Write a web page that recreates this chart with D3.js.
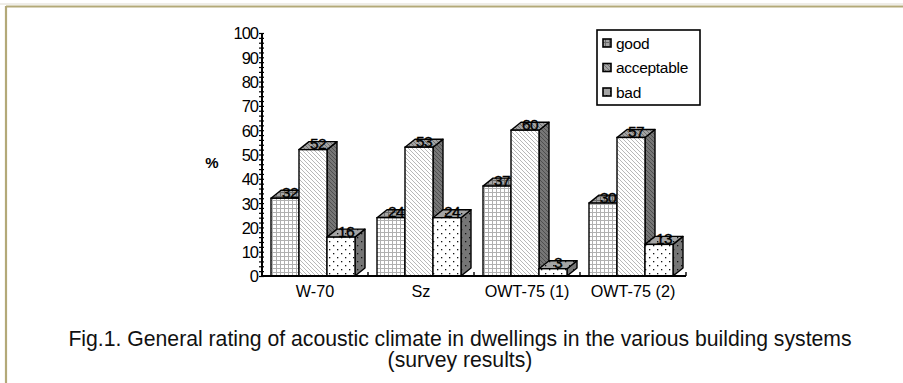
<!DOCTYPE html>
<html>
<head>
<meta charset="utf-8">
<script src="https://cdn.jsdelivr.net/npm/d3@7"></script>
<style>
  html, body { margin: 0; padding: 0; background: #fff; }
  svg { display: block; }
  text { font-family: "Liberation Sans", Arial, Helvetica, sans-serif; }
</style>
</head>
<body>
<svg id="chart" width="903" height="383"></svg>
<script>
// Survey data: share of responses (%) per building system
const categories = ["W-70", "Sz", "OWT-75 (1)", "OWT-75 (2)"];
const seriesNames = ["good", "acceptable", "bad"];
const good = [32, 24, 37, 30];
const acceptable = [52, 53, 60, 57];
const bad = [16, 24, 3, 13];
const yTicks = [0, 10, 20, 30, 40, 50, 60, 70, 80, 90, 100];

const series = [good, acceptable, bad];

const svg = d3.select("#chart");
const defs = svg.append("defs");

// Fill patterns: grid, diagonal hatch, dots
function makePatterns(id, bg, ink) {
  const g = defs.append("pattern").attr("id", "grid-" + id)
    .attr("patternUnits", "userSpaceOnUse").attr("width", 4).attr("height", 4);
  g.append("rect").attr("width", 4).attr("height", 4).attr("fill", bg);
  g.append("path").attr("d", "M0,0.5H4M0.5,0V4").attr("stroke", ink).attr("stroke-width", 1);

  const h = defs.append("pattern").attr("id", "hatch-" + id)
    .attr("patternUnits", "userSpaceOnUse").attr("width", 4).attr("height", 4);
  h.append("rect").attr("width", 4).attr("height", 4).attr("fill", bg);
  h.append("path").attr("d", "M-1,-1L5,5M-1,3L1,5M3,-1L5,1").attr("stroke", ink).attr("stroke-width", 0.9);

  const d = defs.append("pattern").attr("id", "dots-" + id)
    .attr("patternUnits", "userSpaceOnUse").attr("width", 8).attr("height", 8);
  d.append("rect").attr("width", 8).attr("height", 8).attr("fill", bg);
  d.append("rect").attr("x", 1).attr("y", 1).attr("width", 1.3).attr("height", 1.3).attr("fill", "#111");
  d.append("rect").attr("x", 5).attr("y", 5).attr("width", 1.3).attr("height", 1.3).attr("fill", "#111");
}
makePatterns("front", "#fff", "#b0b0b0");
makePatterns("top", "#a4a4a4", "#6a6a6a");
makePatterns("side", "#767676", "#4a4a4a");
const patternKind = ["grid", "hatch", "dots"];

// Frame lines along the top and left edge
svg.append("line").attr("x1", 0).attr("x2", 903).attr("y1", 4).attr("y2", 4)
  .attr("stroke", "#dedbd0").attr("stroke-width", 1);
svg.append("line").attr("x1", 6).attr("x2", 903).attr("y1", 6.5).attr("y2", 6.5)
  .attr("stroke", "#b3a978").attr("stroke-width", 2.2);
svg.append("line").attr("x1", 6).attr("x2", 6).attr("y1", 6).attr("y2", 383)
  .attr("stroke", "#b3a978").attr("stroke-width", 2.2);

// Scales
const y = d3.scaleLinear().domain([0, 100]).range([276, 33]);
const x = d3.scaleBand().domain(categories).range([262, 686]).paddingInner(0).paddingOuter(0);

const barW = 28, depthX = 10, depthY = 8, leftPad = 9;

// Y axis: minor ticks every 2 crossing the axis line, labels every 10
const minor = svg.append("g").attr("transform", "translate(264,0)")
  .call(d3.axisLeft(y).tickValues(d3.range(0, 101, 2)).tickSize(5).tickFormat(""));
minor.select(".domain").remove();
minor.selectAll("line").attr("stroke", "#000").attr("stroke-width", 1.2);

const major = svg.append("g").attr("transform", "translate(262,0)")
  .call(d3.axisLeft(y).tickValues(yTicks).tickSize(0).tickPadding(4));
major.select(".domain").remove();
major.selectAll("text").attr("font-size", 16.5).attr("fill", "#000")
  .attr("font-family", "'Liberation Sans', Arial, sans-serif").attr("dy", "0.36em")
  .attr("letter-spacing", -1);

svg.append("line").attr("x1", 262).attr("x2", 262).attr("y1", y(100)).attr("y2", y(0) + 1)
  .attr("stroke", "#000").attr("stroke-width", 2);

// "%" axis title
svg.append("text").attr("x", 212).attr("y", y(45) + 1).attr("font-size", 15)
  .attr("text-anchor", "middle").attr("font-weight", "bold").text("%");

// Bars drawn as 3D prisms (front, top, side faces)
const plot = svg.append("g");
categories.forEach((cat, ci) => {
  series.forEach((vals, si) => {
    const v = vals[ci];
    const x0 = x(cat) + leftPad + si * barW;
    const x1 = x0 + barW;
    const yt = y(v), yb = y(0);
    const k = patternKind[si];
    const g = plot.append("g");
    // side face
    g.append("path")
      .attr("d", `M${x1},${yb}L${x1 + depthX},${yb - depthY}L${x1 + depthX},${yt - depthY}L${x1},${yt}Z`)
      .attr("fill", `url(#${k}-side)`).attr("stroke", "#000").attr("stroke-width", 1.4)
      .attr("stroke-linejoin", "round");
    // top face
    g.append("path")
      .attr("d", `M${x0},${yt}L${x0 + depthX},${yt - depthY}L${x1 + depthX},${yt - depthY}L${x1},${yt}Z`)
      .attr("fill", `url(#${k}-top)`).attr("stroke", "#000").attr("stroke-width", 1.4)
      .attr("stroke-linejoin", "round");
    // front face
    g.append("rect").attr("x", x0).attr("y", yt).attr("width", barW).attr("height", yb - yt)
      .attr("fill", `url(#${k}-front)`).attr("stroke", "#000").attr("stroke-width", 1.4);
  });
});

// Value labels on the top faces
categories.forEach((cat, ci) => {
  series.forEach((vals, si) => {
    const v = vals[ci];
    const cx = x(cat) + leftPad + si * barW + barW / 2 + depthX / 2;
    svg.append("text").attr("x", cx).attr("y", y(v) - 0.5)
      .attr("text-anchor", "middle").attr("font-size", 15.5).attr("fill", "#000")
      .attr("stroke", "#000").attr("stroke-width", 0.35)
      .attr("letter-spacing", -0.6)
      .text(v);
  });
});

// X axis line with ticks at category boundaries
svg.append("line").attr("x1", 261).attr("x2", 686).attr("y1", y(0)).attr("y2", y(0))
  .attr("stroke", "#000").attr("stroke-width", 2);
const xa = svg.append("g").attr("transform", `translate(0,${y(0)})`)
  .call(d3.axisBottom(x).tickSize(0).tickPadding(9));
xa.select(".domain").remove();
xa.selectAll("text").attr("font-size", 16.2).attr("fill", "#000")
  .attr("font-family", "'Liberation Sans', Arial, sans-serif");
categories.forEach(cat => {
  const bx = x(cat) + x.bandwidth();
  svg.append("line").attr("x1", bx).attr("x2", bx).attr("y1", y(0)).attr("y2", y(0) - 4)
    .attr("stroke", "#000").attr("stroke-width", 1.4);
});

// Legend
const lg = svg.append("g").attr("transform", "translate(597,30)");
lg.append("rect").attr("x", 0).attr("y", 0).attr("width", 103).attr("height", 75)
  .attr("fill", "#fff").attr("stroke", "#000").attr("stroke-width", 1.6);
seriesNames.forEach((name, i) => {
  const ry = 9 + i * 24.5;
  lg.append("rect").attr("x", 6).attr("y", ry).attr("width", 8).attr("height", 8)
    .attr("fill", `url(#${patternKind[i]}-top)`).attr("stroke", "#000").attr("stroke-width", 1.6);
  lg.append("text").attr("x", 19).attr("y", ry + 9.5).attr("font-size", 15.5)
    .attr("letter-spacing", -0.3).text(name);
});

// Caption
const cap = svg.append("text").attr("text-anchor", "middle").attr("font-size", 21.2).attr("fill", "#111");
cap.append("tspan").attr("x", 460).attr("y", 346)
  .text("Fig.1. General rating of acoustic climate in dwellings in the various building systems");
cap.append("tspan").attr("x", 460).attr("y", 367).text("(survey results)");
</script>
</body>
</html>
